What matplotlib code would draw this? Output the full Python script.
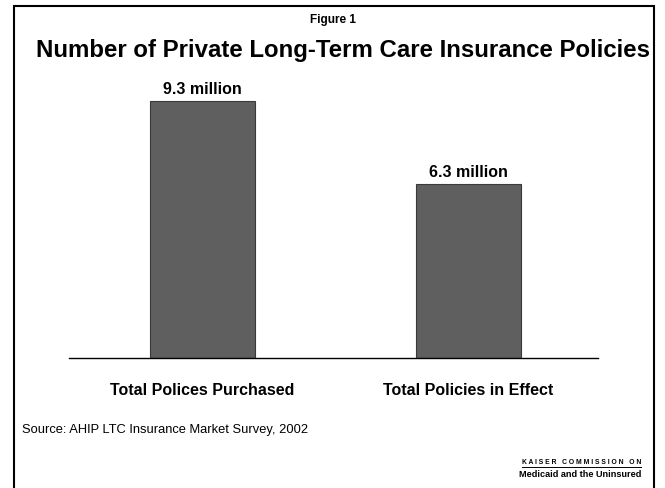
import matplotlib
matplotlib.use("Agg")
import matplotlib.pyplot as plt
from matplotlib.patches import Rectangle

categories = ["Total Polices Purchased", "Total Policies in Effect"]
values = [9.3, 6.3]
value_labels = ["9.3 million", "6.3 million"]

plt.rcParams['font.family'] = ['Liberation Sans', 'DejaVu Sans']

W, H = 665, 489
fig = plt.figure(figsize=(W / 100, H / 100), dpi=100)

# frame
fig.add_artist(Rectangle((14 / W, -0.05), (654 - 14) / W, 1.05 - 7 / H,
                         transform=fig.transFigure, fill=False,
                         edgecolor='black', linewidth=1.5))

ax = fig.add_axes([69 / W, 1 - 359 / H, (598 - 69) / W, (359 - 83) / H])
x = list(range(len(categories)))
ax.bar(x, values, width=0.395, color='#5f5f5f', edgecolor='#3a3a3a', linewidth=0.8)
for xi, v, lab in zip(x, values, value_labels):
    ax.text(xi, v + 0.2, lab, ha='center', va='bottom', fontsize=11.5, fontweight='bold')
ax.set_xlim(-0.502, 1.487)
ax.set_ylim(0, 10)
for s in ['top', 'right', 'left']:
    ax.spines[s].set_visible(False)
ax.spines['bottom'].set_linewidth(1.0)
ax.set_yticks([])
ax.set_xticks(x)
ax.set_xticklabels(categories, fontsize=11.5, fontweight='bold')
ax.tick_params(axis='x', length=0, pad=17)

fig.text(333 / W, 1 - 20 / H, "Figure 1", ha='center', va='center', fontsize=8.5, fontweight='bold')
fig.text(343 / W, 1 - 50 / H, "Number of Private Long-Term Care Insurance Policies",
         ha='center', va='center', fontsize=17.3, fontweight='bold')
fig.text(22 / W, 1 - 430 / H, "Source: AHIP LTC Insurance Market Survey, 2002",
         ha='left', va='center', fontsize=9.3)
fig.text(641 / W, 1 - 463 / H, "K A I S E R   C O M M I S S I O N   O N",
         ha='right', va='center', fontsize=4.9, fontweight='bold')
fig.add_artist(plt.Line2D([522 / W, 641 / W], [1 - 467.5 / H, 1 - 467.5 / H],
                          transform=fig.transFigure, color='black', linewidth=0.7))
fig.text(641 / W, 1 - 475 / H, "Medicaid and the Uninsured",
         ha='right', va='center', fontsize=6.6, fontweight='bold')

fig.savefig("out.png", dpi=100)
